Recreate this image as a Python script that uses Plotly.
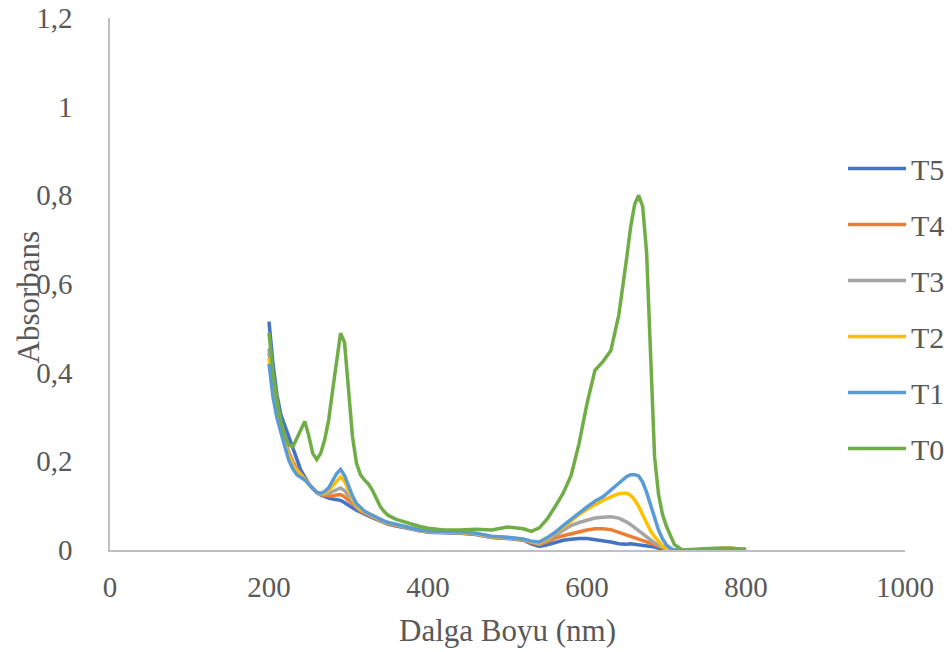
import plotly.graph_objects as go

wavelength = [200, 205, 210, 215, 220, 225, 230, 235, 240, 245, 250, 255, 260, 265, 270, 275, 280, 285, 290, 295,
              300, 305, 310, 315, 320, 325, 330, 335, 340, 345, 350, 360, 370, 380, 390, 400, 420, 440, 460, 480,
              500, 520, 530, 540, 550, 560, 570, 580, 590, 600, 610, 620, 630, 640, 645, 650, 655, 660, 665, 670,
              675, 680, 685, 690, 695, 700, 705, 710, 720, 740, 760, 780, 800]

t0 = [0.49, 0.40, 0.34, 0.29, 0.256, 0.237, 0.233, 0.253, 0.272, 0.29, 0.258, 0.218, 0.204, 0.218, 0.248, 0.293,
      0.36, 0.43, 0.489, 0.468, 0.36, 0.256, 0.196, 0.17, 0.158, 0.149, 0.135, 0.117, 0.098, 0.086, 0.078, 0.069,
      0.063, 0.058, 0.053, 0.049, 0.045, 0.045, 0.047, 0.045, 0.052, 0.048, 0.042, 0.05, 0.07, 0.098, 0.128, 0.168,
      0.24, 0.33, 0.405, 0.425, 0.45, 0.53, 0.59, 0.66, 0.73, 0.78, 0.80, 0.775, 0.67, 0.43, 0.21, 0.125, 0.08,
      0.053, 0.03, 0.012, 0.0, 0.002, 0.004, 0.004, 0.001]

t1 = [0.42, 0.345, 0.298, 0.262, 0.233, 0.202, 0.183, 0.17, 0.165, 0.158, 0.148, 0.139, 0.13, 0.128, 0.132, 0.14,
      0.155, 0.172, 0.182, 0.168, 0.145, 0.122, 0.105, 0.095, 0.088, 0.083, 0.078, 0.073, 0.069, 0.065, 0.062,
      0.058, 0.054, 0.049, 0.045, 0.043, 0.042, 0.041, 0.038, 0.031, 0.029, 0.025, 0.02, 0.018, 0.028, 0.04,
      0.055, 0.07, 0.083, 0.097, 0.11, 0.12, 0.135, 0.152, 0.16, 0.166, 0.17, 0.17, 0.167, 0.153, 0.13, 0.10,
      0.07, 0.045, 0.025, 0.011, 0.004, 0.0, 0.0, 0.0, 0.002, 0.003, 0.0]

t2 = [0.433, 0.355, 0.305, 0.268, 0.238, 0.212, 0.192, 0.178, 0.17, 0.16, 0.149, 0.139, 0.13, 0.127, 0.129, 0.134,
      0.145, 0.157, 0.165, 0.155, 0.136, 0.116, 0.102, 0.093, 0.087, 0.082, 0.077, 0.072, 0.068, 0.064, 0.061,
      0.057, 0.053, 0.048, 0.044, 0.042, 0.041, 0.040, 0.037, 0.030, 0.028, 0.024, 0.019, 0.016, 0.026, 0.038,
      0.051, 0.065, 0.08, 0.092, 0.103, 0.112, 0.12, 0.127, 0.128, 0.128, 0.123, 0.113, 0.098, 0.08, 0.06, 0.043,
      0.03, 0.018, 0.009, 0.003, 0.0, 0.0, 0.0, 0.001, 0.003, 0.004, 0.001]

t3 = [0.455, 0.37, 0.31, 0.27, 0.24, 0.215, 0.195, 0.18, 0.17, 0.16, 0.148, 0.138, 0.13, 0.126, 0.126, 0.128,
      0.132, 0.137, 0.14, 0.134, 0.122, 0.108, 0.097, 0.09, 0.085, 0.08, 0.076, 0.071, 0.067, 0.063, 0.06,
      0.056, 0.052, 0.047, 0.043, 0.041, 0.040, 0.039, 0.036, 0.029, 0.027, 0.023, 0.018, 0.014, 0.022, 0.033,
      0.045, 0.055, 0.062, 0.068, 0.072, 0.074, 0.075, 0.072, 0.068, 0.063, 0.057, 0.05, 0.043, 0.036, 0.029,
      0.022, 0.016, 0.011, 0.006, 0.003, 0.0, 0.0, 0.0, 0.001, 0.003, 0.004, 0.001]

t4 = [0.445, 0.375, 0.315, 0.275, 0.245, 0.22, 0.2, 0.183, 0.172, 0.16, 0.148, 0.138, 0.13, 0.125, 0.123, 0.122,
      0.122, 0.124, 0.125, 0.12, 0.112, 0.102, 0.094, 0.088, 0.083, 0.079, 0.075, 0.07, 0.066, 0.062, 0.059,
      0.055, 0.051, 0.047, 0.043, 0.041, 0.040, 0.039, 0.036, 0.029, 0.027, 0.023, 0.017, 0.012, 0.019, 0.027,
      0.032, 0.037, 0.041, 0.045, 0.048, 0.048, 0.046, 0.04, 0.037, 0.034, 0.031, 0.028, 0.026, 0.023, 0.02,
      0.016, 0.012, 0.008, 0.004, 0.002, 0.0, 0.0, 0.0, 0.001, 0.003, 0.004, 0.001]

t5 = [0.515, 0.42, 0.35, 0.305, 0.28, 0.255, 0.225, 0.2, 0.18, 0.165, 0.15, 0.139, 0.13, 0.124, 0.12, 0.117,
      0.115, 0.114, 0.112, 0.107, 0.1, 0.095, 0.09, 0.085, 0.081, 0.077, 0.073, 0.069, 0.065, 0.061, 0.058,
      0.054, 0.05, 0.046, 0.042, 0.04, 0.039, 0.038, 0.035, 0.028, 0.026, 0.022, 0.014, 0.008, 0.012, 0.018,
      0.022, 0.024, 0.026, 0.026, 0.024, 0.02, 0.018, 0.014, 0.013, 0.013, 0.014, 0.013, 0.012, 0.011, 0.01,
      0.009, 0.007, 0.004, 0.002, 0.0, 0.0, 0.0, 0.0, 0.0, 0.002, 0.003, 0.0]

series_names = ["T5", "T4", "T3", "T2", "T1", "T0"]
series_values = [t5, t4, t3, t2, t1, t0]
series_colors = ["#4472C4", "#ED7D31", "#A5A5A5", "#FFC000", "#5B9BD5", "#70AD47"]

x_ticks = [0, 200, 400, 600, 800, 1000]
y_ticks = [0, 0.2, 0.4, 0.6, 0.8, 1.0, 1.2]

FONT = "Liberation Serif, Times New Roman, serif"
GREY = "#595959"

fig = go.Figure()
for name, vals, col in zip(series_names, series_values, series_colors):
    fig.add_trace(go.Scatter(x=wavelength, y=vals, name=name, mode="lines",
                             legendgroup=name,
                             line=dict(color=col, width=3.5)))

fig.update_layout(
    width=952, height=652,
    margin=dict(l=110, r=47, t=18, b=102, autoexpand=False),
    paper_bgcolor="white", plot_bgcolor="white",
    separators=", ",
    font=dict(family=FONT, size=29, color=GREY),
    showlegend=True,
    legend=dict(x=0.922, y=0.766, xanchor="left", yanchor="top",
                font=dict(family=FONT, size=30, color=GREY),
                tracegroupgap=14, itemwidth=58, bgcolor="rgba(0,0,0,0)"),
    xaxis=dict(range=[0, 1000], tickvals=x_ticks, showgrid=False, zeroline=False,
               showline=True, linecolor="#BFBFBF", linewidth=1.5, ticks="", automargin=False,
               ticklabeloverflow="allow",
               ticklabelstandoff=10, tickfont=dict(family=FONT, size=29, color=GREY)),
    yaxis=dict(range=[0, 1.2], tickvals=y_ticks, showgrid=False, zeroline=False,
               showline=True, linecolor="#BFBFBF", linewidth=1.5, ticks="", automargin=False,
               ticklabeloverflow="allow",
               ticklabelstandoff=30, tickfont=dict(family=FONT, size=29, color=GREY)),
    annotations=[
        dict(text="Dalga Boyu (nm)", xref="paper", yref="paper", x=0.5, y=-0.152,
             xanchor="center", yanchor="middle", showarrow=False,
             font=dict(family=FONT, size=31, color=GREY)),
        dict(text="Absorbans", xref="paper", yref="paper", x=-0.103, y=0.475,
             xanchor="center", yanchor="middle", showarrow=False, textangle=-90,
             font=dict(family=FONT, size=31, color=GREY)),
    ],
)

# remove the browser's default 8px body margin so the figure fills the window exactly
fig.write_html("out.html", config={"displayModeBar": False},
               post_script="document.body.style.margin='0';")
